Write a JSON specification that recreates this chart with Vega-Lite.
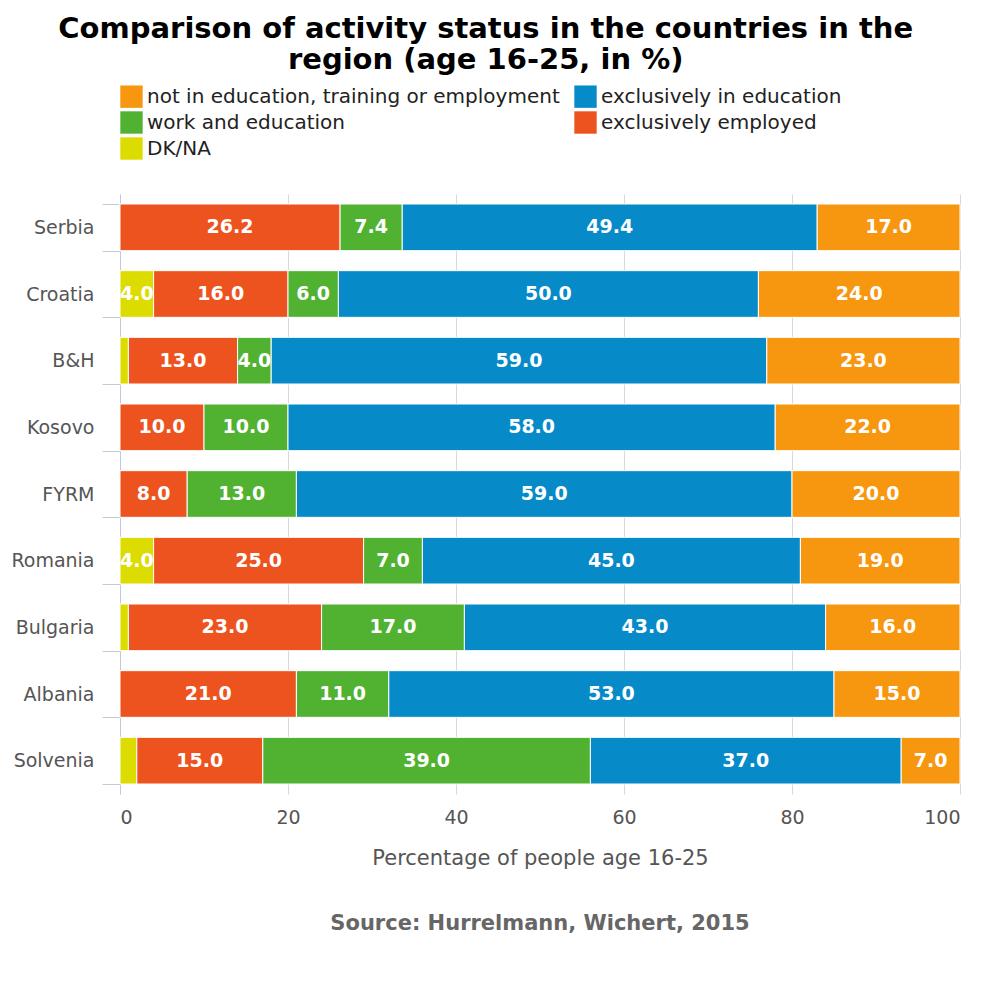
{
  "$schema": "https://vega.github.io/schema/vega-lite/v6.json",
  "background": "white",
  "padding": {"left": 10, "top": 15, "right": 15, "bottom": 10},
  "config": {"font": "DejaVu Sans", "view": {"stroke": null}},
  "title": {"text": ["Comparison of activity status in the countries in the", "region (age 16-25, in %)"], "fontSize": 29, "fontWeight": "bold", "font": "DejaVu Sans", "color": "#000", "offset": 10, "anchor": "middle"},
  "spacing": 45,
  "vconcat": [
    {
      "width": 840,
      "height": 600,
      "data": {"values": [
        {"country": "Serbia", "status": "DK/NA", "value": 0},
        {"country": "Serbia", "status": "exclusively employed", "value": 26.2},
        {"country": "Serbia", "status": "work and education", "value": 7.4},
        {"country": "Serbia", "status": "exclusively in education", "value": 49.4},
        {"country": "Serbia", "status": "not in education, training or employment", "value": 17.0},
        {"country": "Croatia", "status": "DK/NA", "value": 4},
        {"country": "Croatia", "status": "exclusively employed", "value": 16},
        {"country": "Croatia", "status": "work and education", "value": 6},
        {"country": "Croatia", "status": "exclusively in education", "value": 50},
        {"country": "Croatia", "status": "not in education, training or employment", "value": 24},
        {"country": "B&H", "status": "DK/NA", "value": 1},
        {"country": "B&H", "status": "exclusively employed", "value": 13},
        {"country": "B&H", "status": "work and education", "value": 4},
        {"country": "B&H", "status": "exclusively in education", "value": 59},
        {"country": "B&H", "status": "not in education, training or employment", "value": 23},
        {"country": "Kosovo", "status": "DK/NA", "value": 0},
        {"country": "Kosovo", "status": "exclusively employed", "value": 10},
        {"country": "Kosovo", "status": "work and education", "value": 10},
        {"country": "Kosovo", "status": "exclusively in education", "value": 58},
        {"country": "Kosovo", "status": "not in education, training or employment", "value": 22},
        {"country": "FYRM", "status": "DK/NA", "value": 0},
        {"country": "FYRM", "status": "exclusively employed", "value": 8},
        {"country": "FYRM", "status": "work and education", "value": 13},
        {"country": "FYRM", "status": "exclusively in education", "value": 59},
        {"country": "FYRM", "status": "not in education, training or employment", "value": 20},
        {"country": "Romania", "status": "DK/NA", "value": 4},
        {"country": "Romania", "status": "exclusively employed", "value": 25},
        {"country": "Romania", "status": "work and education", "value": 7},
        {"country": "Romania", "status": "exclusively in education", "value": 45},
        {"country": "Romania", "status": "not in education, training or employment", "value": 19},
        {"country": "Bulgaria", "status": "DK/NA", "value": 1},
        {"country": "Bulgaria", "status": "exclusively employed", "value": 23},
        {"country": "Bulgaria", "status": "work and education", "value": 17},
        {"country": "Bulgaria", "status": "exclusively in education", "value": 43},
        {"country": "Bulgaria", "status": "not in education, training or employment", "value": 16},
        {"country": "Albania", "status": "DK/NA", "value": 0},
        {"country": "Albania", "status": "exclusively employed", "value": 21},
        {"country": "Albania", "status": "work and education", "value": 11},
        {"country": "Albania", "status": "exclusively in education", "value": 53},
        {"country": "Albania", "status": "not in education, training or employment", "value": 15},
        {"country": "Solvenia", "status": "DK/NA", "value": 2},
        {"country": "Solvenia", "status": "exclusively employed", "value": 15},
        {"country": "Solvenia", "status": "work and education", "value": 39},
        {"country": "Solvenia", "status": "exclusively in education", "value": 37},
        {"country": "Solvenia", "status": "not in education, training or employment", "value": 7}
      ]},
      "transform": [
        {"calculate": "indexof(['DK/NA','exclusively employed','work and education','exclusively in education','not in education, training or employment'], datum.status)", "as": "ord"},
        {"stack": "value", "groupby": ["country"], "sort": [{"field": "ord"}], "as": ["x0", "x1"]},
        {"calculate": "(datum.x0 + datum.x1) / 2", "as": "xm"}
      ],
      "encoding": {
        "y": {"field": "country", "type": "nominal", "sort": ["Serbia", "Croatia", "B&H", "Kosovo", "FYRM", "Romania", "Bulgaria", "Albania", "Solvenia"],
          "scale": {"paddingInner": 0.3, "paddingOuter": 0.15},
          "axis": {"title": null, "labelFontSize": 19, "labelColor": "#555", "labelPadding": 8, "domainColor": "#c0cad8", "tickColor": "#c0cad8", "tickBand": "extent", "tickSize": 18}}
      },
      "layer": [
        {
          "mark": {"type": "bar", "stroke": "white", "strokeWidth": 1},
          "encoding": {
            "x": {"field": "x0", "type": "quantitative", "scale": {"domain": [0, 100]},
              "axis": {"title": "Percentage of people age 16-25", "titleFontSize": 21, "titleFontWeight": "normal", "titleColor": "#555", "titlePadding": 20, "labelFontSize": 19, "labelColor": "#555", "tickCount": 5, "grid": true, "gridColor": "#d8d8d8", "domain": false, "ticks": false, "labelPadding": 14}},
            "x2": {"field": "x1"},
            "color": {"field": "status", "type": "nominal",
              "scale": {"domain": ["not in education, training or employment", "exclusively in education", "work and education", "exclusively employed", "DK/NA"],
                "range": ["#f7960f", "#078ac8", "#51b232", "#ec531f", "#dcdc00"]},
              "legend": {"orient": "top", "title": null, "columns": 2, "labelFontSize": 20, "labelColor": "#222", "symbolType": "square", "symbolSize": 500, "symbolStrokeWidth": 0, "columnPadding": 14, "rowPadding": 3, "labelLimit": 500, "offset": 25}}
          }
        },
        {
          "transform": [{"filter": "datum.value >= 4"}],
          "mark": {"type": "text", "color": "white", "fontSize": 19, "fontWeight": "bold"},
          "encoding": {
            "x": {"field": "xm", "type": "quantitative"},
            "text": {"field": "value", "type": "quantitative", "format": ".1f"}
          }
        }
      ]
    },
    {
      "width": 840,
      "height": 20,
      "data": {"values": [{"t": "Source: Hurrelmann, Wichert, 2015"}]},
      "mark": {"type": "text", "fontSize": 21, "fontWeight": "bold", "color": "#666"},
      "encoding": {"text": {"field": "t"}}
    }
  ]
}
